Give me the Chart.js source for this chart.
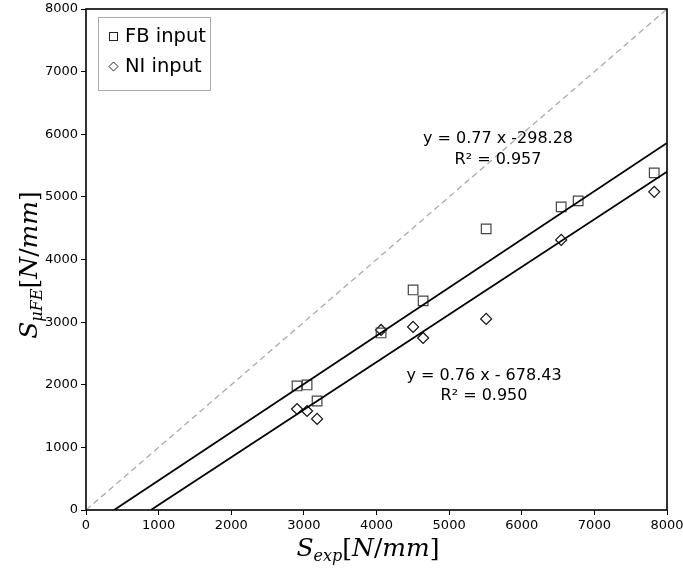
<!DOCTYPE html>
<html>
<head>
<meta charset="utf-8">
<script src="https://cdn.jsdelivr.net/npm/chart.js@4/dist/chart.umd.min.js"></script>
<style>
  html, body { margin: 0; padding: 0; background: #fff; }
  #wrap { width: 683px; height: 569px; position: relative; }
</style>
</head>
<body>
<div id="wrap"><canvas id="fitChart"></canvas></div>
<script>
// data
const expX = [2906, 3044, 3182, 4063, 4504, 4642, 5510, 6543, 6777, 7824];
const fbY  = [1981, 1997, 1741, 2827, 3514, 3339, 4489, 4840, 4936, 5383];
const niX  = [2906, 3044, 3182, 4063, 4504, 4642, 5510, 6543, 7824];
const niY  = [1613, 1581, 1454, 2875, 2923, 2747, 3051, 4313, 5080];

// trend lines (end points)
const fbFitX = [387, 8000];
const fbFitY = [0, 5862];
const niFitX = [893, 8000];
const niFitY = [0, 5402];
const diagXY = [0, 8000];

const axisTicks = [0, 1000, 2000, 3000, 4000, 5000, 6000, 7000, 8000];

const fbLabel = 'FB input';
const niLabel = 'NI input';
const fbEq = ['y = 0.77 x -298.28', 'R\u00b2 = 0.957'];
const niEq = ['y = 0.76 x - 678.43', 'R\u00b2 = 0.950'];

function pts(xs, ys) {
    return xs.map((x, i) => ({ x: x, y: ys[i] }));
}

// draw a row of mixed-font pieces, centred at 0,0
function drawMath(ctx, parts) {
    let total = 0;
    parts.forEach(p => { ctx.font = p.font; p.w = ctx.measureText(p.t).width; total += p.w; });
    let x = -total / 2;
    ctx.textBaseline = 'alphabetic';
    ctx.textAlign = 'left';
    parts.forEach(p => {
        ctx.font = p.font;
        ctx.fillText(p.t, x, p.dy || 0);
        x += p.w;
    });
}

const big = 'italic 25px "DejaVu Serif"';
const sub = 'italic 16px "DejaVu Serif"';
const up = '25px "DejaVu Serif"';

const extras = {
    id: 'extras',
    afterDraw(chart) {
        const ctx = chart.ctx;
        const a = chart.chartArea;
        ctx.save();

        // frame
        ctx.strokeStyle = '#000';
        ctx.lineWidth = 1.6;
        ctx.strokeRect(a.left, a.top, a.right - a.left, a.bottom - a.top);

        // equations
        ctx.fillStyle = '#000';
        ctx.font = '16px "DejaVu Sans"';
        ctx.textAlign = 'center';
        ctx.textBaseline = 'middle';
        ctx.fillText(fbEq[0], 498, 139);
        ctx.fillText(fbEq[1], 498, 160);
        ctx.fillText(niEq[0], 484, 376);
        ctx.fillText(niEq[1], 484, 396);

        // legend
        ctx.strokeStyle = '#aaa';
        ctx.lineWidth = 1;
        ctx.strokeRect(98.5, 17.5, 112, 73);
        ctx.font = '19.5px "DejaVu Sans"';
        ctx.textAlign = 'left';
        ctx.fillText(fbLabel, 125, 37);
        ctx.fillText(niLabel, 125, 67);
        ctx.strokeStyle = '#222';
        ctx.strokeRect(109.5, 32.5, 8, 8);
        ctx.beginPath();
        ctx.moveTo(113.5, 62); ctx.lineTo(118, 66.5); ctx.lineTo(113.5, 71); ctx.lineTo(109, 66.5);
        ctx.closePath();
        ctx.stroke();

        // axis titles
        ctx.save();
        ctx.translate(368, 556);
        drawMath(ctx, [
            { t: 'S', font: big },
            { t: 'exp', font: sub, dy: 5 },
            { t: '[', font: up },
            { t: 'N', font: big },
            { t: '/', font: up },
            { t: 'mm', font: big },
            { t: ']', font: up }
        ]);
        ctx.restore();

        ctx.save();
        ctx.translate(37, 265);
        ctx.rotate(-Math.PI / 2);
        drawMath(ctx, [
            { t: 'S', font: big },
            { t: '\u03bcFE', font: sub, dy: 5 },
            { t: '[', font: up },
            { t: 'N', font: big },
            { t: '/', font: up },
            { t: 'mm', font: big },
            { t: ']', font: up }
        ]);
        ctx.restore();

        ctx.restore();
    }
};

const tickStyle = {
    color: '#000',
    font: { family: 'DejaVu Sans', size: 13 },
    padding: 3,
    callback: v => String(v)
};

new Chart(document.getElementById('fitChart'), {
    type: 'scatter',
    data: {
        datasets: [
            {
                label: 'y = x',
                type: 'line',
                data: pts(diagXY, diagXY),
                borderColor: '#aaaaaa',
                borderDash: [6, 4],
                borderWidth: 1.3,
                pointRadius: 0,
                fill: false
            },
            {
                label: 'FB fit',
                type: 'line',
                data: pts(fbFitX, fbFitY),
                borderColor: '#000',
                borderWidth: 1.8,
                pointRadius: 0,
                fill: false
            },
            {
                label: 'NI fit',
                type: 'line',
                data: pts(niFitX, niFitY),
                borderColor: '#000',
                borderWidth: 1.8,
                pointRadius: 0,
                fill: false
            },
            {
                label: fbLabel,
                data: pts(expX, fbY),
                pointStyle: 'rect',
                pointRadius: 6.8,
                borderColor: '#444',
                backgroundColor: 'rgba(0,0,0,0)',
                borderWidth: 1.2
            },
            {
                label: niLabel,
                data: pts(niX, niY),
                pointStyle: 'rectRot',
                pointRadius: 5.5,
                borderColor: '#111',
                backgroundColor: 'rgba(0,0,0,0)',
                borderWidth: 1.2
            }
        ]
    },
    options: {
        responsive: true,
        maintainAspectRatio: false,
        animation: false,
        layout: { padding: { left: 0, right: 16, top: 9, bottom: 0 } },
        plugins: {
            legend: { display: false },
            tooltip: { enabled: false }
        },
        scales: {
            x: {
                type: 'linear',
                min: 0,
                max: 8000,
                afterBuildTicks: s => { s.ticks = axisTicks.map(v => ({ value: v })); },
                afterFit: s => { s.height = 59; s.paddingRight = 0; s.paddingLeft = 0; },
                ticks: Object.assign({ maxRotation: 0, autoSkip: false }, tickStyle),
                grid: { drawOnChartArea: false, drawTicks: true, tickLength: 5, color: '#000' },
                border: { display: false }
            },
            y: {
                type: 'linear',
                min: 0,
                max: 8000,
                afterBuildTicks: s => { s.ticks = axisTicks.map(v => ({ value: v })); },
                afterFit: s => { s.width = 86; s.paddingTop = 0; s.paddingBottom = 0; },
                ticks: Object.assign({ autoSkip: false }, tickStyle),
                grid: { drawOnChartArea: false, drawTicks: true, tickLength: 5, color: '#000' },
                border: { display: false }
            }
        }
    },
    plugins: [extras]
});
</script>
</body>
</html>
